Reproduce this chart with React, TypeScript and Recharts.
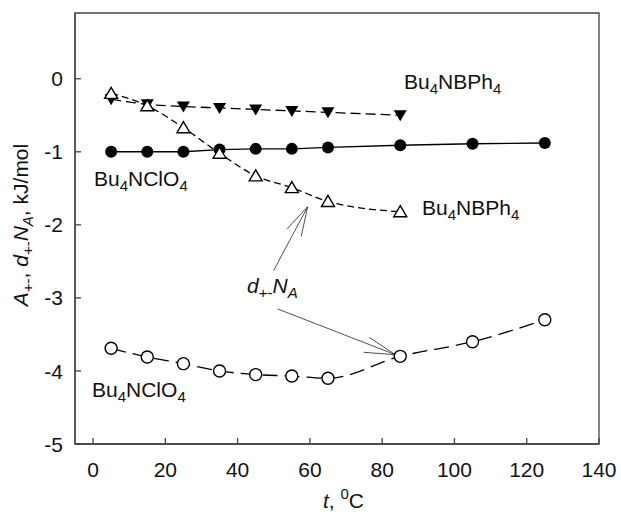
import React from 'react';
import { LineChart, Line, XAxis, YAxis, ReferenceArea, ReferenceLine } from 'recharts';

// temperatures, °C
const tShort = [5, 15, 25, 35, 45, 55, 65, 85];
const tLong = [5, 15, 25, 35, 45, 55, 65, 85, 105, 125];

// A+- values, kJ/mol
const aBPh4 = [-0.28, -0.35, -0.38, -0.4, -0.42, -0.44, -0.46, -0.5];
const aClO4 = [-1.0, -1.0, -1.0, -0.97, -0.96, -0.96, -0.94, -0.91, -0.89, -0.88];

// d+- N_A values, kJ/mol
const dBPh4 = [-0.2, -0.37, -0.67, -1.02, -1.33, -1.49, -1.68, -1.82];
const dClO4 = [-3.69, -3.81, -3.9, -4.0, -4.05, -4.07, -4.1, -3.8, -3.6, -3.3];

const xTicks = [0, 20, 40, 60, 80, 100, 120, 140];
const yTicks = [-5, -4, -3, -2, -1, 0];

const toRows = (xs: number[], ys: number[]) => xs.map((t, i) => ({ t, v: ys[i] }));

const FONT = '"Liberation Sans", Arial, sans-serif';
const AXIS = '#444';

// arrows pointing from the d+-N_A label (data coords)
const arrows = [
  [{ x: 49.96, y: -2.626 }, { x: 59.37, y: -1.753 }],
  [{ x: 53.67, y: -2.055 }, { x: 59.37, y: -1.753 }],
  [{ x: 57.62, y: -2.156 }, { x: 59.37, y: -1.753 }],
  [{ x: 51.07, y: -3.151 }, { x: 83.63, y: -3.777 }],
  [{ x: 76.43, y: -3.54 }, { x: 83.63, y: -3.777 }],
  [{ x: 74.86, y: -3.745 }, { x: 83.63, y: -3.777 }],
];

const XTick = ({ x, y, payload }: any) => (
  <g>
    <line x1={x} x2={x} y1={y} y2={y - 6} stroke={AXIS} strokeWidth={1.3} />
    <text x={x} y={y + 33} textAnchor="middle" fontFamily={FONT} fontSize={21} fill="#111">
      {payload.value}
    </text>
  </g>
);

const YTick = ({ x, y, payload }: any) => (
  <g>
    <line x1={x} x2={x + 6} y1={y} y2={y} stroke={AXIS} strokeWidth={1.3} />
    <text x={x - 12} y={y} dy="0.36em" textAnchor="end" fontFamily={FONT} fontSize={21} fill="#111">
      {payload.value}
    </text>
  </g>
);

const FilledCircle = (p: any) => <circle key={`fc-${p.index}`} cx={p.cx} cy={p.cy} r={6} fill="#000" />;
const OpenCircle = (p: any) => (
  <circle key={`oc-${p.index}`} cx={p.cx} cy={p.cy} r={6} fill="#fff" stroke="#000" strokeWidth={1.4} />
);
const DownTriangle = (p: any) => (
  <path key={`dt-${p.index}`} d={`M${p.cx - 6.5},${p.cy - 5}L${p.cx + 6.5},${p.cy - 5}L${p.cx},${p.cy + 6}Z`} fill="#000" />
);
const UpTriangle = (p: any) => (
  <path
    key={`ut-${p.index}`}
    d={`M${p.cx},${p.cy - 6}L${p.cx + 6.5},${p.cy + 5}L${p.cx - 6.5},${p.cy + 5}Z`}
    fill="#fff"
    stroke="#000"
    strokeWidth={1.4}
  />
);

// text segments: [text, shift(0 normal, 1 sub, -1 sup), italic]
type Seg = [string, number, boolean?];

const Rich = ({ segs, ...rest }: { segs: Seg[] } & React.SVGProps<SVGTextElement>) => {
  let level = 0;
  return (
    <text fontFamily={FONT} fontSize={21} fill="#111" {...rest}>
      {segs.map(([s, shift, it], i) => {
        const off = shift === 1 ? 5 : shift === -1 ? -9 : 0;
        const dy = off - level;
        level = off;
        return (
          <tspan key={i} dy={dy} fontSize={shift ? 15 : 21} fontStyle={it ? 'italic' : 'normal'}>
            {s}
          </tspan>
        );
      })}
    </text>
  );
};

const salt = (anion: string): Seg[] => [
  ['Bu', 0],
  ['4', 1],
  ['N' + anion, 0],
  ['4', 1],
];

const dLabel: Seg[] = [
  ['d', 0, true],
  ['+-', 1],
  ['N', 0, true],
  ['A', 1, true],
];

const yLabel: Seg[] = [
  ['A', 0, true],
  ['+-', 1],
  [', ', 0],
  ['d', 0, true],
  ['+-', 1],
  ['N', 0, true],
  ['A', 1, true],
  [', kJ/mol', 0],
];

const xLabel: Seg[] = [
  ['t', 0, true],
  [', ', 0],
  ['0', -1],
  ['C', 0],
];

const App: React.FC = () => {
  return (
    <div style={{ position: 'absolute', left: 0, top: 0, width: 621, height: 512, background: '#fff' }}>
      <LineChart width={621} height={512} margin={{ top: 13, right: 22, left: 0, bottom: 0 }}>
        <XAxis
          type="number"
          dataKey="t"
          domain={[-5, 140]}
          ticks={xTicks}
          allowDataOverflow
          height={68}
          tickSize={0}
          tickMargin={0}
          tickLine={false}
          tick={<XTick />}
          stroke={AXIS}
          strokeWidth={1.3}
        />
        <YAxis
          type="number"
          domain={[-5, 0.9]}
          ticks={yTicks}
          allowDataOverflow
          width={75}
          tickSize={0}
          tickMargin={0}
          tickLine={false}
          tick={<YTick />}
          stroke={AXIS}
          strokeWidth={1.3}
        />
        <ReferenceArea x1={-5} x2={140} y1={-5} y2={0.9} fill="none" stroke={AXIS} strokeWidth={1.3} ifOverflow="visible" />
        {arrows.map((seg, i) => (
          <ReferenceLine key={`ar-${i}`} segment={seg} stroke="#222" strokeWidth={0.8} ifOverflow="visible" />
        ))}
        <Line
          data={toRows(tLong, aClO4)}
          dataKey="v"
          type="linear"
          stroke="#000"
          strokeWidth={1.4}
          dot={FilledCircle}
          activeDot={false}
          isAnimationActive={false}
        />
        <Line
          data={toRows(tShort, aBPh4)}
          dataKey="v"
          type="monotone"
          stroke="#000"
          strokeWidth={1.3}
          strokeDasharray="10 5"
          dot={DownTriangle}
          activeDot={false}
          isAnimationActive={false}
        />
        <Line
          data={toRows(tLong, dClO4)}
          dataKey="v"
          type="monotone"
          stroke="#000"
          strokeWidth={1.3}
          strokeDasharray="15 7"
          dot={OpenCircle}
          activeDot={false}
          isAnimationActive={false}
        />
        <Line
          data={toRows(tShort, dBPh4)}
          dataKey="v"
          type="monotone"
          stroke="#000"
          strokeWidth={1.3}
          strokeDasharray="7 4"
          dot={UpTriangle}
          activeDot={false}
          isAnimationActive={false}
        />
      </LineChart>
      <svg width={621} height={512} style={{ position: 'absolute', left: 0, top: 0, pointerEvents: 'none' }}>
        <Rich x={404} y={89} segs={salt('BPh')} />
        <Rich x={94} y={186} segs={salt('ClO')} />
        <Rich x={422} y={215} segs={salt('BPh')} />
        <Rich x={92} y={397} segs={salt('ClO')} />
        <Rich x={247} y={293} segs={dLabel} />
        <Rich x={323} y={508} segs={xLabel} />
        <Rich x={28} y={225} transform="rotate(-90, 28, 225)" textAnchor="middle" segs={yLabel} />
      </svg>
    </div>
  );
};

export default App;
